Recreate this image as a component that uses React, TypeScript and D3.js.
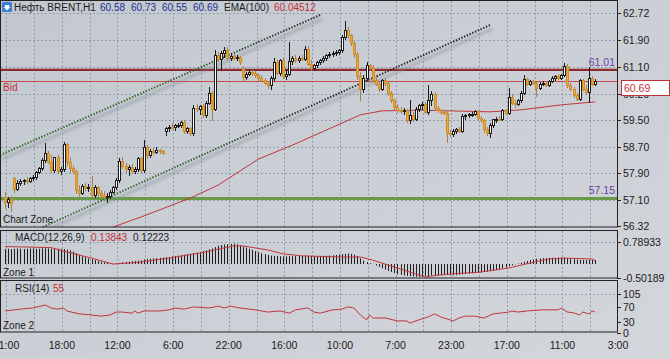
import React from 'react';
import * as d3 from 'd3';

// ---------- DATA ----------
const opens = [57.20,57.05,57.12,57.75,57.42,57.62,57.66,57.70,57.68,57.76,57.80,57.95,58.05,58.30,58.52,58.25,58.00,58.38,57.98,58.02,
58.78,58.25,58.05,57.98,57.40,57.30,57.52,57.45,57.50,57.25,57.48,57.30,57.25,57.18,57.22,57.35,57.48,57.70,58.28,58.12,
58.02,58.08,57.98,58.02,58.35,58.00,58.70,58.45,58.58,58.55,58.60,58.56,59.18,59.25,59.30,59.28,59.34,59.36,59.45,59.18,
59.25,59.12,59.88,59.85,59.92,59.65,60.02,60.32,59.85,61.45,61.35,61.52,61.60,61.38,61.42,61.38,61.40,61.05,60.80,60.90,
60.95,60.92,60.85,60.78,60.72,60.62,60.55,60.78,61.25,60.92,61.30,60.82,60.90,61.28,61.36,61.32,61.38,61.35,61.65,61.20,
61.08,61.15,61.25,61.32,61.38,61.45,61.50,61.52,61.55,61.60,62.00,62.22,62.05,61.82,61.48,60.82,60.45,60.78,61.15,61.10,
60.72,60.60,60.45,60.70,60.62,60.32,60.10,59.90,59.82,59.78,59.80,59.50,59.65,59.55,59.85,59.95,59.98,59.75,60.10,60.30,
59.88,59.80,59.76,59.72,59.12,59.08,59.18,59.22,59.18,59.62,59.66,59.68,59.70,59.78,59.58,59.50,59.22,59.12,59.35,59.52,
59.55,59.52,59.80,59.72,60.20,60.02,60.00,60.10,60.32,60.75,60.60,60.68,60.62,60.48,60.60,60.62,60.56,60.68,60.78,60.82,
60.78,60.86,61.12,60.55,60.45,60.25,60.15,60.70,60.45,60.35,60.78,60.58];
const highs = [57.35,57.20,57.22,57.80,57.70,57.72,57.74,57.78,57.80,57.85,57.98,58.10,58.35,58.80,58.58,58.45,58.40,58.45,58.10,58.85,
58.82,58.40,58.12,58.00,57.55,57.58,57.60,57.58,57.82,57.55,57.52,57.40,57.36,57.30,57.40,57.52,57.75,58.35,58.40,58.22,
58.15,58.18,58.08,58.40,58.40,58.90,58.75,58.62,58.65,58.68,58.64,58.60,59.30,59.35,59.40,59.38,59.42,59.48,59.50,59.30,
59.30,59.95,59.98,59.95,60.00,60.08,60.50,60.38,61.60,61.55,61.58,61.70,61.70,61.48,61.50,61.45,61.42,61.12,60.95,61.00,
61.00,60.98,60.90,60.85,60.78,60.68,60.82,61.38,61.30,61.35,61.38,61.00,61.85,61.42,61.45,61.42,61.45,61.72,61.72,61.30,
61.20,61.28,61.35,61.42,61.50,61.55,61.58,61.60,61.65,62.05,62.48,62.30,62.10,61.88,61.55,60.95,60.85,61.25,61.20,61.15,
60.80,60.68,60.75,60.78,60.65,60.38,60.15,59.98,59.90,59.88,59.85,60.12,59.75,59.90,60.00,60.05,60.05,60.55,60.38,60.35,
59.92,59.85,59.82,59.78,59.20,59.22,59.25,59.28,59.68,59.70,59.72,59.75,59.82,59.80,59.62,59.55,59.30,59.40,59.55,59.60,
59.62,59.85,59.85,60.48,60.30,60.10,60.15,60.38,60.85,60.78,60.72,60.72,60.66,60.65,60.68,60.68,60.72,60.82,60.85,60.88,
60.90,61.22,61.18,60.62,60.50,60.32,60.75,60.75,60.55,61.10,60.82,60.73];
const lows = [56.85,56.90,56.78,57.35,57.40,57.55,57.58,57.62,57.64,57.70,57.74,57.90,58.00,58.25,58.20,57.95,57.95,57.92,57.88,57.98,
58.15,57.95,57.90,57.30,57.20,57.28,57.40,57.38,57.15,57.20,57.22,57.18,57.10,57.05,57.15,57.30,57.42,57.65,58.05,57.95,
57.85,57.92,57.90,57.96,57.95,57.95,58.35,58.40,58.48,58.50,58.52,58.48,59.05,59.18,59.22,59.20,59.28,59.30,59.12,59.10,
59.05,59.05,59.78,59.70,59.60,59.60,59.98,59.50,59.82,61.28,61.00,61.40,61.30,61.32,61.35,61.32,61.20,60.70,60.75,60.85,
60.86,60.80,60.72,60.68,60.58,60.48,60.45,60.72,60.88,60.85,60.78,60.75,60.85,61.20,61.25,61.26,61.30,61.32,61.15,61.02,
61.00,61.10,61.18,61.26,61.32,61.40,61.42,61.45,61.48,61.55,61.95,61.98,61.75,61.40,60.75,60.10,60.35,60.70,61.00,60.68,
60.55,60.38,60.40,60.55,60.25,60.05,59.85,59.75,59.72,59.70,59.45,59.42,59.48,59.50,59.78,59.85,59.72,59.70,59.95,59.82,
59.75,59.70,59.68,58.85,59.02,59.02,59.10,59.15,59.15,59.55,59.60,59.62,59.65,59.55,59.45,59.15,59.05,59.00,59.30,59.45,
59.50,59.50,59.68,59.68,59.98,59.90,59.95,60.05,60.28,60.55,60.55,60.58,60.22,60.45,60.55,60.52,60.52,60.65,60.72,60.74,
60.74,60.82,60.50,60.40,60.20,60.10,60.10,60.40,60.30,60.05,60.55,60.55];
const closes = [57.05,57.12,57.02,57.42,57.62,57.66,57.70,57.68,57.76,57.80,57.95,58.05,58.30,58.52,58.25,58.00,58.38,57.98,58.02,58.78,
58.25,58.05,57.98,57.40,57.30,57.52,57.45,57.50,57.25,57.48,57.30,57.25,57.18,57.22,57.35,57.48,57.70,58.28,58.12,58.02,
58.08,57.98,58.02,58.35,58.00,58.70,58.45,58.58,58.55,58.60,58.56,58.52,59.25,59.30,59.28,59.34,59.36,59.45,59.18,59.25,
59.10,59.88,59.85,59.92,59.65,60.02,60.32,59.85,61.45,61.35,61.52,61.60,61.38,61.42,61.38,61.40,61.25,60.80,60.90,60.95,
60.92,60.85,60.78,60.72,60.62,60.55,60.78,61.25,60.92,61.30,60.82,60.90,61.28,61.36,61.32,61.38,61.35,61.65,61.20,61.08,
61.15,61.25,61.32,61.38,61.45,61.50,61.52,61.55,61.60,62.00,62.22,62.05,61.82,61.48,60.82,60.45,60.78,61.15,61.10,60.72,
60.60,60.45,60.70,60.62,60.32,60.10,59.90,59.82,59.78,59.80,59.50,59.65,59.55,59.85,59.95,59.98,59.75,60.10,60.30,59.88,
59.80,59.76,59.72,59.12,59.08,59.18,59.22,59.18,59.62,59.66,59.68,59.70,59.78,59.58,59.50,59.22,59.12,59.35,59.52,59.55,
59.52,59.80,59.72,60.20,60.02,60.00,60.10,60.32,60.75,60.60,60.68,60.62,60.48,60.60,60.62,60.56,60.68,60.78,60.82,60.78,
60.86,61.12,60.55,60.45,60.25,60.15,60.70,60.45,60.35,60.78,60.58,60.69];

const emaBars = [35,44,60,69,82,93,109,115,122,135,148,157,167,180,191];
const emaValues = [56.29,56.59,57.16,57.55,58.33,58.75,59.41,59.66,59.78,59.80,59.77,59.75,59.81,59.96,60.05];

const macdHist = [0.53,0.54,0.53,0.54,0.55,0.54,0.53,0.54,0.55,0.55,0.54,0.54,0.55,0.56,
0.55,0.55,0.54,0.54,0.53,0.53,0.51,
0.48,0.44,0.38,0.32,0.28,0.24,0.20,
0.17,0.14,0.11,0.08,0.06,0.04,0.02,0.01,
0.02,0.04,0.06,0.07,0.08,0.10,0.11,0.12,0.13,
0.16,0.18,0.19,0.20,0.21,0.22,0.23,0.24,0.25,
0.27,0.29,0.30,0.31,0.33,0.35,0.36,0.38,0.40,0.42,
0.45,0.48,0.52,0.55,0.60,0.64,0.67,0.69,0.70,0.71,0.72,
0.70,0.66,0.62,0.58,0.54,0.50,
0.46,0.42,0.38,0.35,0.32,0.30,
0.29,0.28,0.28,0.27,0.27,0.28,0.28,0.28,0.29,0.29,0.30,0.29,0.28,0.28,0.28,0.28,0.29,0.29,0.30,0.31,
0.32,0.34,0.35,0.36,0.37,0.36,0.33,0.28,
0.20,0.12,0.07,0.03,0.01,
-0.05,-0.10,-0.15,-0.20,-0.24,-0.28,-0.32,
-0.36,-0.38,-0.40,-0.42,-0.43,-0.44,-0.45,-0.45,-0.44,-0.43,-0.42,
-0.41,-0.40,-0.40,-0.39,-0.38,-0.38,-0.39,-0.40,-0.39,-0.37,-0.36,-0.35,-0.34,-0.33,-0.32,-0.31,
-0.30,-0.28,-0.27,-0.25,-0.23,-0.21,-0.18,-0.15,-0.12,
-0.08,-0.04,-0.01,0.02,0.05,
0.08,0.11,0.14,0.17,0.19,
0.20,0.21,0.21,0.22,0.22,0.22,0.23,0.23,0.23,
0.21,0.19,0.17,0.16,0.15,0.15,0.14,0.15,0.14,0.14];
const signalBars = [0,15,20,28,35,44,53,63,74,77,85,90,96,109,115,119,127,136,138,144,154,163,170,176,181,190,191];
const signalValues = [0.62,0.58,0.43,0.21,0.00,0.07,0.21,0.39,0.64,0.64,0.50,0.36,0.29,0.25,0.25,0.14,-0.14,-0.46,-0.42,-0.35,-0.28,-0.14,0.04,0.18,0.21,0.18,0.12];

const rsiBars = [0,5,9,13,15,17,19,20,24,28,31,34,36,38,41,42,43,45,50,53,55,58,61,66,69,71,73,76,79,81,85,89,92,94,98,100,102,106,109,111,113,115,117,118,119,123,127,130,131,134,137,139,141,145,147,149,152,155,158,161,163,164,166,169,174,179,180,182,184,186,187,189,190,191];
const rsiValues = [59,64,67,75,67,64,67,59,51,48,45,48,56,56,53,59,53,59,59,62,67,64,70,67,72,67,72,67,64,62,56,59,53,62,67,56,53,62,64,70,67,48,35,48,40,40,32,32,26,35,43,51,43,32,40,45,45,40,51,54,56,59,56,59,62,62,67,56,54,48,56,51,59,56];

const priceTicks = [62.72, 61.90, 61.10, 60.29, 59.50, 58.70, 57.90, 57.10, 56.32];
const timeLabels = ['1:00','18:00','12:00','6:00','22:00','16:00','10:00','7:00','23:00','17:00','11:00','3:00'];
const timeLabelBars = [0.4,18.4,36.4,54.4,72.4,90.4,108.4,126.4,144.4,162.4,180.4,198.4];
const gridBars = [0.4,9.4,18.4,27.4,36.4,45.4,54.4,63.4,72.4,81.4,90.4,99.4,108.4,117.4,126.4,135.4,144.4,153.4,162.4,171.4,180.4,189.4];
const macdTicks = [0.78933, -0.50189];
const rsiTicks = [105, 70, 30, 0];

const resistanceLevel = 61.01;
const bidLevel = 60.69;
const supportLevel = 57.15;
const channelBars = [[-1.6, 102.0], [12.3, 157.0]];
const channelPrices = [[58.45, 62.66], [56.29, 62.36]];

const headerTitle = 'Нефть BRENT,H1';
const headerOHLC = ['60.58', '60.73', '60.55', '60.69'];
const emaLabel = 'EMA(100)';
const emaText = '60.04512';
const macdTitle = 'MACD(12,26,9)';
const macdTexts = ['0.13843', '0.12223'];
const rsiTitle = 'RSI(14)';
const rsiText = '55';

// ---------- LAYOUT ----------
const W = 670, H = 359;
const AX = 617;
const FONT = 'Liberation Sans, Arial, sans-serif';
const TXT = '#1b1b1b';
const RED = '#c3303a';
const BLUE = '#1f2f8e';
const PURPLE = '#6a3fa8';
const GRID = '#939dab';

export default function App() {
  const x = d3.scaleLinear().domain([0, 191]).range([5, 595.2]);
  const y = d3.scaleLinear().domain([56.32, 62.72]).range([226, 13]);
  const ym = d3.scaleLinear().domain([-0.50189, 0.78933]).range([278.3, 241.7]);
  const yr = d3.scaleLinear().domain([0, 105]).range([332.7, 294]);

  const emaLine = d3.line<number>().x((_, i) => x(emaBars[i])).y((d) => y(d));
  const sigLine = d3.line<number>().x((_, i) => x(signalBars[i])).y((d) => ym(d));
  const rsiLine = d3.line<number>().x((_, i) => x(rsiBars[i])).y((d) => yr(d));

  const t = (s: string, xx: number, yy: number, fill = TXT, anchor: any = 'start', fs = 10) => (
    <text x={xx} y={yy} fill={fill} textAnchor={anchor} fontFamily={FONT} fontSize={fs}>{s}</text>
  );

  const hLine = (yy: number, color: string, w: number) => (
    <g>
      <line x1={0} x2={AX} y1={yy + 3} y2={yy + 3} stroke="#7d838d" strokeWidth={2} opacity={0.45} filter="url(#blur)" />
      <line x1={0} x2={AX} y1={yy} y2={yy} stroke={color} strokeWidth={w} />
    </g>
  );

  return (
    <svg width={W} height={H} style={{ position: 'absolute', left: 0, top: 0 }}>
      <defs>
        <linearGradient id="bg" x1="0" y1="0" x2="1" y2="1">
          <stop offset="0" stopColor="#c3c8d0" />
          <stop offset="1" stopColor="#d3d6db" />
        </linearGradient>
        <linearGradient id="chan" gradientUnits="userSpaceOnUse" x1={150} y1={0} x2={330} y2={0}>
          <stop offset="0" stopColor="#2f6a2a" />
          <stop offset="1" stopColor="#262626" />
        </linearGradient>
        <filter id="blur" x="-10%" y="-200%" width="120%" height="500%">
          <feGaussianBlur stdDeviation="1.4" />
        </filter>
        <clipPath id="mainClip"><rect x={1} y={1} width={AX - 1} height={226} /></clipPath>
        <clipPath id="macdClip"><rect x={1} y={231} width={AX - 1} height={47} /></clipPath>
        <clipPath id="rsiClip"><rect x={1} y={281} width={AX - 1} height={51} /></clipPath>
      </defs>
      <rect x={0} y={0} width={W} height={H} fill="url(#bg)" />

      {/* grids */}
      {[[1, 227], [231, 278], [281, 332]].map(([a, b], k) => (
        <g key={k}>
          {gridBars.map((g, i) => (
            <line key={i} x1={Math.round(x(g)) + 0.5} x2={Math.round(x(g)) + 0.5} y1={a} y2={b} stroke={GRID} strokeDasharray="2,2" />
          ))}
        </g>
      ))}
      {priceTicks.slice(0, 8).map((p, i) => (
        <line key={i} x1={1} x2={AX} y1={Math.round(y(p)) + 0.5} y2={Math.round(y(p)) + 0.5} stroke={GRID} strokeDasharray="2,2" />
      ))}
      <line x1={1} x2={AX} y1={Math.round(ym(macdTicks[0])) + 0.5} y2={Math.round(ym(macdTicks[0])) + 0.5} stroke={GRID} strokeDasharray="2,2" />
      <line x1={1} x2={AX} y1={Math.round(yr(rsiTicks[0])) + 0.5} y2={Math.round(yr(rsiTicks[0])) + 0.5} stroke={GRID} strokeDasharray="2,2" />

      {/* main panel */}
      <g clipPath="url(#mainClip)">
        {hLine(y(resistanceLevel), '#8c2a2e', 2.2)}
        <line x1={0} x2={AX} y1={Math.round(y(bidLevel)) + 0.5} y2={Math.round(y(bidLevel)) + 0.5} stroke="#cc4a4a" strokeWidth={1} />
        {hLine(y(supportLevel), '#6a9a48', 3)}

        {channelBars.map((b, k) => (
          <g key={k}>
            <line x1={x(b[0]) + 2} x2={x(b[1]) + 2} y1={y(channelPrices[k][0]) + 4} y2={y(channelPrices[k][1]) + 4}
              stroke="#7a808a" strokeWidth={2.5} opacity={0.45} filter="url(#blur)" />
            <line x1={x(b[0])} x2={x(b[1])} y1={y(channelPrices[k][0])} y2={y(channelPrices[k][1])}
              stroke="url(#chan)" strokeWidth={2} strokeDasharray="1.4,1.6" />
          </g>
        ))}

        <path d={emaLine(emaValues) || ''} fill="none" stroke="#c0353a" strokeWidth={1} />

        {opens.map((o, i) => {
          const c = closes[i];
          const px = Math.round(x(i));
          const bull = c >= o;
          const yt = Math.round(y(Math.max(o, c)));
          const yb = Math.round(y(Math.min(o, c)));
          const wc = bull ? '#1c1c1c' : '#a8824a';
          return (
            <g key={i}>
              <line x1={px + 0.5} x2={px + 0.5} y1={Math.round(y(highs[i]))} y2={Math.round(y(lows[i])) + 1} stroke={wc} />
              <rect x={px - 0.5} y={yt + 0.5} width={2} height={Math.max(yb - yt, 1)}
                fill={bull ? '#ffffff' : '#eba63c'} stroke={bull ? '#1c1c1c' : '#cf8e2c'} />
            </g>
          );
        })}
      </g>

      {/* MACD */}
      <g clipPath="url(#macdClip)">
        {macdHist.map((v, i) => {
          const px = Math.round(x(i)) + 0.5;
          return <line key={i} x1={px} x2={px} y1={ym(0)} y2={ym(v)} stroke="#1e1e1e" strokeWidth={1} />;
        })}
        <path d={sigLine(signalValues) || ''} fill="none" stroke="#c0353a" strokeWidth={1} />
      </g>

      {/* RSI */}
      <g clipPath="url(#rsiClip)">
        <path d={rsiLine(rsiValues) || ''} fill="none" stroke="#c0353a" strokeWidth={1} />
      </g>

      {/* panel borders */}
      <rect x={0.5} y={0.5} width={AX} height={226.5} fill="none" stroke="#222" />
      <rect x={0.5} y={230.5} width={AX} height={47.5} fill="none" stroke="#222" />
      <rect x={0.5} y={280.5} width={AX} height={51.5} fill="none" stroke="#222" />

      {/* right axis */}
      {priceTicks.map((p, i) => (
        <g key={i}>
          <line x1={AX} x2={AX + 4} y1={Math.round(y(p)) + 0.5} y2={Math.round(y(p)) + 0.5} stroke="#222" />
          {t(p.toFixed(2), 623, y(p) + 4, TXT, 'start', 10.5)}
        </g>
      ))}
      {macdTicks.map((v, i) => (
        <g key={i}>
          <line x1={AX} x2={AX + 4} y1={Math.round(ym(v)) + 0.5} y2={Math.round(ym(v)) + 0.5} stroke="#222" />
          {t(v.toFixed(5), 623, ym(v) + 4, TXT, 'start', 10.5)}
        </g>
      ))}
      {rsiTicks.map((v, i) => (
        <g key={i}>
          <line x1={AX} x2={AX + 4} y1={Math.round(yr(v)) + 0.5} y2={Math.round(yr(v)) + 0.5} stroke="#222" />
          {t(String(v), 623, yr(v) + 4, TXT, 'start', 10.5)}
        </g>
      ))}
      <rect x={621.5} y={Math.round(y(bidLevel)) - 0.5} width={48} height={15} fill="#ffffff" stroke={RED} />
      {t(bidLevel.toFixed(2), 624, y(bidLevel) + 11, RED, 'start', 10.5)}

      {/* time axis */}
      {timeLabels.map((s, i) => (
        <text key={i} x={Math.max(x(timeLabelBars[i]), 9)} y={348.5} textAnchor="middle" fill={TXT} fontFamily={FONT} fontSize={10.5}>{s}</text>
      ))}

      {/* header */}
      <rect x={2} y={2} width={10} height={10} fill="#3d7fd3" rx={1} />
      <path d="M5 5 L9 5 L9 7 L10.5 7 L7 10.5 L3.5 7 L5 7 Z" fill="#fff" />
      {t(headerTitle, 14, 11)}
      {headerOHLC.map((s, i) => <g key={i}>{t(s, 100 + i * 31, 11, BLUE)}</g>)}
      {t(emaLabel, 224, 11)}
      {t(emaText, 274, 11, RED)}

      {t('Bid', 3, 91, RED)}
      {t('Chart Zone', 3, 223)}
      {t(resistanceLevel.toFixed(2), 615, 66, PURPLE, 'end', 10.5)}
      {t(supportLevel.toFixed(2), 615, 194, PURPLE, 'end', 10.5)}

      {t(macdTitle, 15, 241)}
      {t(macdTexts[0], 91, 241, RED)}
      {t(macdTexts[1], 133, 241)}
      {t('Zone 1', 3, 276)}
      {t(rsiTitle, 15, 292)}
      {t(rsiText, 53, 292, RED)}
      {t('Zone 2', 3, 329)}
    </svg>
  );
}
